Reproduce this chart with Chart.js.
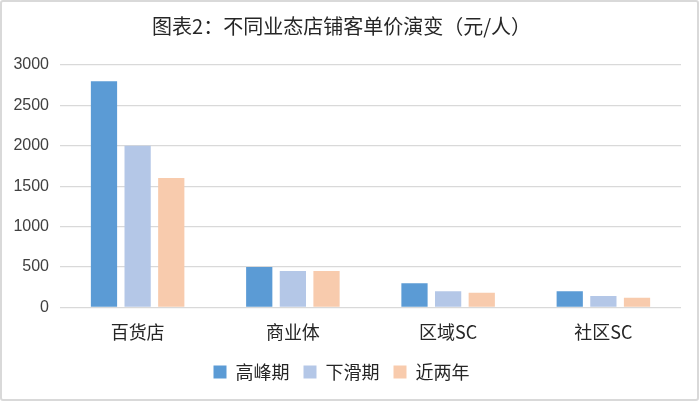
<!DOCTYPE html>
<html>
<head>
<meta charset="utf-8">
<script src="https://cdn.jsdelivr.net/npm/chart.js@4.4.0/dist/chart.umd.min.js"></script>
<style>
    html, body { margin: 0; padding: 0; background: #fff; }
    #marco {
        width: 699px; height: 401px; box-sizing: border-box;
        border: 2px solid #d9d9d9; border-radius: 3px; position: relative;
    }
    #grafico { display: block; }
</style>
</head>
<body>
<div id="marco"><canvas id="grafico" width="695" height="397"></canvas></div>
<script>
// Datos del gráfico
const categorias = ['百货店', '商业体', '区域SC', '社区SC'];
const series = ['高峰期', '下滑期', '近两年'];
const altoPico = [2800, 500, 300, 200];
const bajada = [2000, 450, 200, 140];
const ultimosAnios = [1600, 450, 180, 120];
const colores = ['#5B9BD5', '#B4C7E7', '#F8CBAD'];

const fuenteCJK = '"Noto Sans CJK SC", "Liberation Sans", sans-serif';

const ctx = document.getElementById('grafico').getContext('2d');
new Chart(ctx, {
    type: 'bar',
    data: {
        labels: categorias,
        datasets: [altoPico, bajada, ultimosAnios].map((valores, i) => ({
            label: series[i],
            data: valores,
            backgroundColor: colores[i],
            borderWidth: 0,
            categoryPercentage: 0.65,
            barPercentage: 0.78
        }))
    },
    options: {
        responsive: false,
        animation: false,
        devicePixelRatio: 1,
        layout: { padding: { left: 0, right: 16, top: 0, bottom: 8 } },
        scales: {
            x: {
                grid: { display: false },
                border: { display: false },
                ticks: { color: '#262626', font: { family: fuenteCJK, size: 18 }, padding: 6 }
            },
            y: {
                min: 0,
                max: 3000,
                afterFit: (eje) => { eje.width = 58; },
                grid: { color: '#d9d9d9', lineWidth: 1.3, drawTicks: false },
                border: { display: false },
                ticks: {
                    stepSize: 500,
                    padding: 11,
                    color: '#404040',
                    font: { family: '"Liberation Sans", Arial, sans-serif', size: 16 },
                    callback: (valor) => String(valor)
                }
            }
        },
        plugins: {
            title: {
                display: true,
                text: '图表2：不同业态店铺客单价演变（元/人）',
                color: '#262626',
                font: { family: fuenteCJK, size: 20, weight: 'normal' },
                padding: { top: 12, bottom: 27 }
            },
            legend: {
                position: 'bottom',
                labels: {
                    color: '#262626',
                    font: { family: fuenteCJK, size: 18 },
                    boxWidth: 13,
                    boxHeight: 13,
                    padding: 14
                }
            },
            tooltip: { enabled: false }
        }
    }
});
</script>
</body>
</html>
